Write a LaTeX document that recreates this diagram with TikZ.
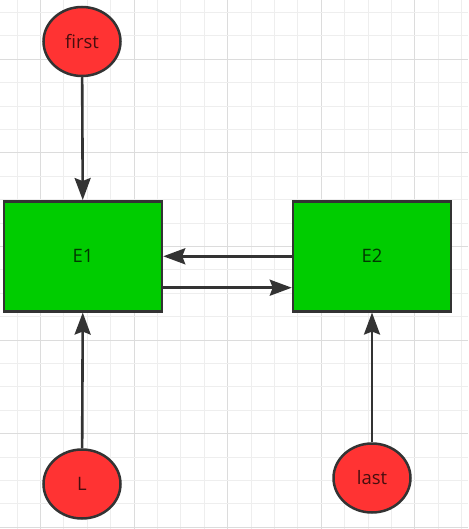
\documentclass[tikz,border=0pt]{standalone}
\usepackage{fontspec}
\setmainfont{Open Sans}
\usetikzlibrary{shapes.geometric,arrows.meta}
\definecolor{redfill}{HTML}{FF3333}
\definecolor{greenfill}{HTML}{00CC00}
\definecolor{stroke}{HTML}{333333}
\definecolor{gridminor}{HTML}{EEEEEE}
\definecolor{gridmajor}{HTML}{DCDCDC}
\tikzset{
  oval/.style={ellipse, draw=stroke, fill=redfill, line width=2.5pt, minimum width=77pt, minimum height=69pt, inner sep=0pt, font=\fontsize{18.5}{20}\selectfont, text=black, text opacity=0.72},
  box/.style={rectangle, draw=stroke, fill=greenfill, line width=2.5pt, minimum width=158pt, minimum height=110pt, inner sep=0pt, font=\fontsize{18.5}{20}\selectfont, text=black, text opacity=0.72},
  conn/.style={draw=stroke, line width=2.6pt, -{Stealth[length=22pt,width=16pt,inset=3pt]}}
}
\begin{document}
\begin{tikzpicture}[x=1pt,y=-1pt]
\useasboundingbox (0,0) rectangle (468,529);
\fill[white] (0,0) rectangle (468,529);
% grid
\foreach \k in {0,...,19}{
  \pgfmathsetmacro\gx{17+23.4*\k}
  \pgfmathtruncatemacro\m{mod(\k,4)}
  \ifnum\m=1 \draw[gridmajor,line width=1pt] (\gx,0) -- (\gx,529);
  \else \draw[gridminor,line width=1pt] (\gx,0) -- (\gx,529); \fi
}
\foreach \k in {0,...,22}{
  \pgfmathsetmacro\gy{12.5+23.4*\k}
  \pgfmathtruncatemacro\m{mod(\k,4)}
  \ifnum\m=2 \draw[gridmajor,line width=1pt] (0,\gy) -- (468,\gy);
  \else \draw[gridminor,line width=1pt] (0,\gy) -- (468,\gy); \fi
}
% nodes
\node[oval] (first) at (82,41.5) {first};
\node[box] (E1) at (83,256.3) {E1};
\node[box] (E2) at (372,256.3) {E2};
\node[oval] (L) at (82,484) {L};
\node[oval] (last) at (372,478) {last};
% connectors
\draw[conn] (first) -- (E1);
\draw[conn] (E2.west) -- (E1.east);
\draw[conn] ([yshift=-31.4pt]E1.east) -- ([yshift=-31.4pt]E2.west);
\draw[conn] (L) -- (E1);
\draw[conn] (last) -- (E2);
\end{tikzpicture}
\end{document}
